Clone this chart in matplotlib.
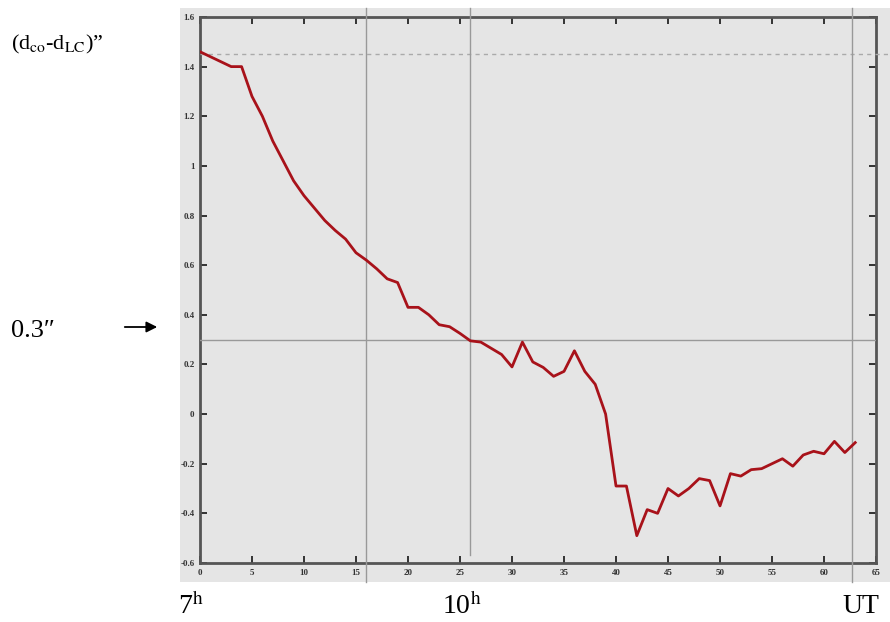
import matplotlib
matplotlib.use("Agg")
import matplotlib.pyplot as plt
from matplotlib.patches import Rectangle, FancyArrowPatch

# Data
t = list(range(0, 64))
d = [1.46, 1.44, 1.42, 1.40, 1.40, 1.28, 1.20, 1.10, 1.02, 0.94,
     0.88, 0.83, 0.78, 0.74, 0.705, 0.65, 0.62, 0.585, 0.545, 0.53,
     0.43, 0.43, 0.40, 0.36, 0.352, 0.325, 0.295, 0.29, 0.265, 0.24,
     0.19, 0.29, 0.21, 0.188, 0.152, 0.172, 0.255, 0.172, 0.12, 0.00,
     -0.29, -0.29, -0.49, -0.385, -0.40, -0.30, -0.33, -0.30, -0.26, -0.268,
     -0.37, -0.24, -0.25, -0.224, -0.22, -0.20, -0.18, -0.21, -0.165, -0.15,
     -0.16, -0.11, -0.155, -0.115]
xticks = list(range(0, 70, 5))
yticks = [-0.6, -0.4, -0.2, 0, 0.2, 0.4, 0.6, 0.8, 1, 1.2, 1.4, 1.6]
ytick_labels = ["-0.6", "-0.4", "-0.2", "0", "0.2", "0.4", "0.6", "0.8", "1", "1.2", "1.4", "1.6"]
ref_level = 0.3
dashed_level = 1.45
vlines = [16, 26, 62.7]

plt.rcParams['font.family'] = ['Liberation Serif', 'DejaVu Serif']
plt.rcParams['mathtext.fontset'] = 'stix'

fig = plt.figure(figsize=(8.9, 6.22), dpi=100)
fig.patch.set_facecolor('white')
bg = '#e5e5e5'
fig.add_artist(Rectangle((0.2022, 0.0643), 0.7978, 0.9228, transform=fig.transFigure,
                         facecolor=bg, edgecolor='none', zorder=-5))

ax = fig.add_axes([0.2247, 0.0949, 0.7596, 0.8778])
ax.set_zorder(2)
ax.set_facecolor(bg)
ax.plot(t, d, color='#a8121a', lw=2.0, zorder=5)
ax.set_xlim(0, 65)
ax.set_ylim(-0.6, 1.6)
ax.set_xticks(xticks)
ax.set_xticklabels([str(v) for v in xticks])
ax.set_yticks(yticks)
ax.set_yticklabels(ytick_labels)
ax.tick_params(direction='in', length=5, width=1.4, colors='#333333', labelsize=6.5,
               top=True, right=True, pad=4)
for lab in ax.get_xticklabels() + ax.get_yticklabels():
    lab.set_fontweight('bold')
for s in ax.spines.values():
    s.set_color('#555555')
    s.set_linewidth(2)

# reference lines
ax.axhline(ref_level, color='#999999', lw=1.0, zorder=3)
ax.axhline(dashed_level, xmin=0, xmax=1.0207, color='#aaaaaa', lw=1.0, ls=(0, (3, 3)),
           clip_on=False, zorder=3)
ax.axvline(vlines[0], ymin=-0.0348, ymax=1.0165, color='#999999', lw=1.0, clip_on=False, zorder=3)
ax.axvline(vlines[1], ymin=0.0147, ymax=1.0165, color='#999999', lw=1.0, clip_on=False, zorder=3)
ax.axvline(vlines[2], ymin=-0.0348, ymax=1.0165, color='#999999', lw=1.0, clip_on=False, zorder=3)

# annotations
fig.text(0.012, 0.928, r"(d$_{\rm co}$-d$_{\rm LC}$)”", fontsize=16, ha='left', va='center')
fig.text(0.012, 0.468, "0.3″", fontsize=19, ha='left', va='center')
fig.add_artist(FancyArrowPatch((122 / 890, 1 - 327 / 622), (160 / 890, 1 - 327 / 622),
                               transform=fig.transFigure, arrowstyle='-|>', mutation_scale=16,
                               color='black', lw=1.3))
fig.text(0.2, 0.025, r"7$^{\rm h}$", fontsize=20, ha='left', va='center')
fig.text(0.497, 0.025, r"10$^{\rm h}$", fontsize=20, ha='left', va='center')
fig.text(0.947, 0.025, "UT", fontsize=20, ha='left', va='center')

fig.savefig("out.png", dpi=100)
